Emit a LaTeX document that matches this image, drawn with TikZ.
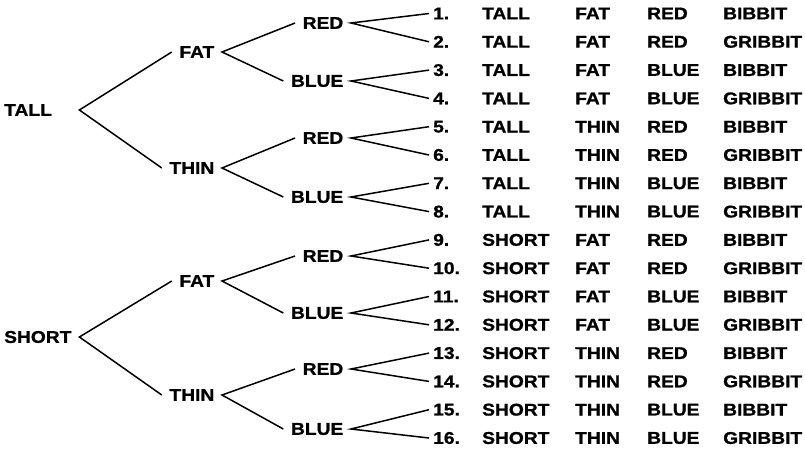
\documentclass[tikz,border=0pt]{standalone}
\usepackage{fontspec}
\newfontfamily\lblfont{Liberation Sans}[FakeStretch=1.13,FakeBold=1]
\begin{document}
\begin{tikzpicture}[x=1pt,y=-1pt,
  every node/.style={font=\lblfont\bfseries\fontsize{17}{19}\selectfont, inner ysep=0pt},
  lbl/.style={anchor=east, inner xsep=7.5pt},
  rootlbl/.style={anchor=west, inner xsep=0pt, text width=75pt, align=left},
  num/.style={anchor=west, inner xsep=4pt},
  cell/.style={anchor=west, inner xsep=0pt},
  conn/.style={line width=1.5pt}]
\useasboundingbox (0,0) rectangle (805,453);
% table rows
\foreach \i/\a/\b/\c/\d in {
  1/TALL/FAT/RED/BIBBIT, 2/TALL/FAT/RED/GRIBBIT,
  3/TALL/FAT/BLUE/BIBBIT, 4/TALL/FAT/BLUE/GRIBBIT,
  5/TALL/THIN/RED/BIBBIT, 6/TALL/THIN/RED/GRIBBIT,
  7/TALL/THIN/BLUE/BIBBIT, 8/TALL/THIN/BLUE/GRIBBIT,
  9/SHORT/FAT/RED/BIBBIT, 10/SHORT/FAT/RED/GRIBBIT,
  11/SHORT/FAT/BLUE/BIBBIT, 12/SHORT/FAT/BLUE/GRIBBIT,
  13/SHORT/THIN/RED/BIBBIT, 14/SHORT/THIN/RED/GRIBBIT,
  15/SHORT/THIN/BLUE/BIBBIT, 16/SHORT/THIN/BLUE/GRIBBIT}{
  \node[num]  (n\i) at (429, {13.5+(\i-1)*28.3}) {\i.};
  \node[cell] (a\i) at (482, {13.5+(\i-1)*28.3}) {\a};
  \node[cell] (b\i) at (575, {13.5+(\i-1)*28.3}) {\b};
  \node[cell] (c\i) at (647, {13.5+(\i-1)*28.3}) {\c};
  \node[cell] (d\i) at (723, {13.5+(\i-1)*28.3}) {\d};
}
% roots
\node[rootlbl] (t) at (4,110) {TALL};
\node[rootlbl] (s) at (4,337) {SHORT};
% level 2
\node[lbl] (tf) at (222,52)  {FAT};
\node[lbl] (tt) at (222,168) {THIN};
\node[lbl] (sf) at (222,281) {FAT};
\node[lbl] (st) at (222,395) {THIN};
% level 3
\node[lbl] (tfr) at (351,23)  {RED};
\node[lbl] (tfb) at (351,81)  {BLUE};
\node[lbl] (ttr) at (351,138) {RED};
\node[lbl] (ttb) at (351,197) {BLUE};
\node[lbl] (sfr) at (351,256) {RED};
\node[lbl] (sfb) at (351,313) {BLUE};
\node[lbl] (str) at (351,369) {RED};
\node[lbl] (stb) at (351,429) {BLUE};
% connectors
\draw[conn] (tf.west) -- (t.east) -- (tt.west);
\draw[conn] (sf.west) -- (s.east) -- (st.west);
\draw[conn] (tfr.west) -- (tf.east) -- (tfb.west);
\draw[conn] (ttr.west) -- (tt.east) -- (ttb.west);
\draw[conn] (sfr.west) -- (sf.east) -- (sfb.west);
\draw[conn] (str.west) -- (st.east) -- (stb.west);
\draw[conn] (n1.west) -- (tfr.east) -- (n2.west);
\draw[conn] (n3.west) -- (tfb.east) -- (n4.west);
\draw[conn] (n5.west) -- (ttr.east) -- (n6.west);
\draw[conn] (n7.west) -- (ttb.east) -- (n8.west);
\draw[conn] (n9.west) -- (sfr.east) -- (n10.west);
\draw[conn] (n11.west) -- (sfb.east) -- (n12.west);
\draw[conn] (n13.west) -- (str.east) -- (n14.west);
\draw[conn] (n15.west) -- (stb.east) -- (n16.west);
\end{tikzpicture}
\end{document}
